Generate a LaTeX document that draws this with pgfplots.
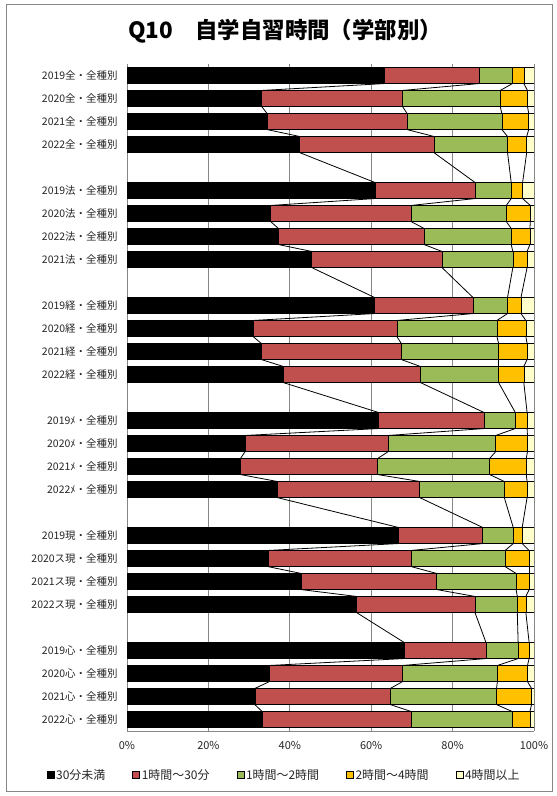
\documentclass[border=0pt]{standalone}
\usepackage{pgfplots}
\pgfplotsset{compat=1.18}
\usepackage{pgfplotstable}
\usepackage{fontspec}
\setmainfont{Noto Sans CJK JP}
\definecolor{cRed}{HTML}{C0504D}
\definecolor{cGreen}{HTML}{9BBB59}
\definecolor{cOrange}{HTML}{FFC000}
\definecolor{cYellow}{HTML}{FFFFCC}
\definecolor{cGrid}{HTML}{868686}

% pos = row position (top to bottom), a..e = shares in percent
\pgfplotstableread{
pos a b c d e
0 63.3 23.2 8.2 2.8 2.5
1 33.1 34.6 24.0 6.7 1.6
2 34.4 34.4 23.3 6.6 1.3
3 42.4 33.0 18.1 4.7 1.8
5 60.9 24.6 8.9 2.8 2.8
6 35.3 34.5 23.4 5.9 0.9
7 37.2 35.8 21.4 4.6 1.0
8 45.4 32.0 17.4 3.5 1.7
10 60.8 24.2 8.5 3.3 3.2
11 31.0 35.3 24.6 7.1 2.0
12 33.0 34.4 23.9 7.0 1.7
13 38.4 33.7 19.2 6.2 2.5
15 61.8 25.9 7.7 2.9 1.7
16 29.0 35.2 26.4 7.8 1.6
17 27.9 33.7 27.5 9.0 1.9
18 36.9 35.0 20.8 5.6 1.7
20 66.7 20.7 7.5 2.2 2.9
21 34.6 35.2 23.1 5.9 1.2
22 42.8 33.3 19.5 3.2 1.2
23 56.4 29.1 10.4 2.1 2.0
25 68.1 20.1 7.9 2.7 1.2
26 35.0 32.7 23.3 7.4 1.6
27 31.4 33.3 26.1 8.6 0.6
28 33.2 36.6 24.8 4.4 1.0
}\data
\pgfplotstablecreatecol[create col/expr={\thisrow{a}}]{A}\data
\pgfplotstablecreatecol[create col/expr={\thisrow{a}+\thisrow{b}}]{B}\data
\pgfplotstablecreatecol[create col/expr={\thisrow{a}+\thisrow{b}+\thisrow{c}}]{C}\data
\pgfplotstablecreatecol[create col/expr={\thisrow{a}+\thisrow{b}+\thisrow{c}+\thisrow{d}}]{D}\data
\newcommand\mkprev[2]{%
  \pgfplotstablecreatecol[create col/assign/.code={%
    \ifnum\pgfplotstablerow=0\relax\def\myval{0}\else\pgfmathsetmacro\myval{#2}\fi
    \pgfkeyslet{/pgfplots/table/create col/next content}\myval}]{#1}\data}
\mkprev{pA}{\prevrow{A}}
\mkprev{pB}{\prevrow{B}}
\mkprev{pC}{\prevrow{C}}
\mkprev{pD}{\prevrow{D}}
\mkprev{ppos}{\prevrow{pos}}

\pgfplotsset{
  mybar/.style={xbar, bar width=0.7, bar shift=0pt, draw=black, line width=0.6bp, forget plot},
  sline/.style={black, line width=0.8bp, forget plot, skip coords between index={0}{1}},
}

\begin{document}
\begin{tikzpicture}
\path[use as bounding box] (0bp,0bp) rectangle (557bp,-796bp);
\draw[cGrid, line width=0.75bp] (6bp,-4bp) rectangle (552bp,-791bp);
\node[font=\bfseries\fontsize{22.5}{25}\selectfont] at (285bp,-31bp) {Q10　自学自習時間（学部別）};
\begin{axis}[
  at={(127bp,-64bp)}, anchor=north west,
  scale only axis, width=407bp, height=667bp,
  xmin=0, xmax=100, ymin=-0.5, ymax=28.5, y dir=reverse,
  axis x line*=bottom, axis y line*=left,
  axis line style={cGrid, line width=0.75bp},
  xtick={0,20,40,60,80,100},
  xticklabels={0\%,20\%,40\%,60\%,80\%,100\%},
  xmajorgrids, grid style={cGrid, line width=0.75bp},
  major tick length=0pt,
  ytick={0,1,2,3,5,6,7,8,10,11,12,13,15,16,17,18,20,21,22,23,25,26,27,28},
  yticklabels={2019全・全種別,2020全・全種別,2021全・全種別,2022全・全種別,
    2019法・全種別,2020法・全種別,2022法・全種別,2021法・全種別,
    2019経・全種別,2020経・全種別,2021経・全種別,2022経・全種別,
    2019ﾒ・全種別,2020ﾒ・全種別,2021ﾒ・全種別,2022ﾒ・全種別,
    2019現・全種別,2020ス現・全種別,2021ス現・全種別,2022ス現・全種別,
    2019心・全種別,2020心・全種別,2021心・全種別,2022心・全種別},
  yticklabel style={font=\fontsize{10.5}{12}\selectfont, text=black!85, xshift=-6bp},
  xticklabel style={font=\fontsize{11}{12}\selectfont, text=black!85, yshift=-7bp},
  legend columns=5,
  legend style={draw=none, fill=none, at={(0.386,-0.066)}, anchor=center,
    font=\fontsize{12}{13}\selectfont, text=black!85,
    /tikz/every even column/.append style={column sep=25bp}},
  legend image code/.code={\draw[#1, draw=black, line width=0.5bp] (0bp,-3.5bp) rectangle (7bp,3.5bp);},
]
\addlegendimage{fill=black}
\addlegendentry{30分未満}
\addlegendimage{fill=cRed}
\addlegendentry{1時間～30分}
\addlegendimage{fill=cGreen}
\addlegendentry{1時間～2時間}
\addlegendimage{fill=cOrange}
\addlegendentry{2時間～4時間}
\addlegendimage{fill=cYellow}
\addlegendentry{4時間以上}

\addplot[mybar, fill=cYellow] table[x expr=\thisrow{D}+\thisrow{e}, y=pos]{\data};
\addplot[mybar, fill=cOrange] table[x=D, y=pos]{\data};
\addplot[mybar, fill=cGreen] table[x=C, y=pos]{\data};
\addplot[mybar, fill=cRed] table[x=B, y=pos]{\data};
\addplot[mybar, fill=black] table[x=A, y=pos]{\data};

\addplot[sline, quiver={u=\thisrow{A}-\thisrow{pA}, v=\thisrow{pos}-\thisrow{ppos}-0.7}]
  table[x=pA, y expr=\thisrow{ppos}+0.35]{\data};
\addplot[sline, quiver={u=\thisrow{B}-\thisrow{pB}, v=\thisrow{pos}-\thisrow{ppos}-0.7}]
  table[x=pB, y expr=\thisrow{ppos}+0.35]{\data};
\addplot[sline, quiver={u=\thisrow{C}-\thisrow{pC}, v=\thisrow{pos}-\thisrow{ppos}-0.7}]
  table[x=pC, y expr=\thisrow{ppos}+0.35]{\data};
\addplot[sline, quiver={u=\thisrow{D}-\thisrow{pD}, v=\thisrow{pos}-\thisrow{ppos}-0.7}]
  table[x=pD, y expr=\thisrow{ppos}+0.35]{\data};
\end{axis}
\end{tikzpicture}
\end{document}
